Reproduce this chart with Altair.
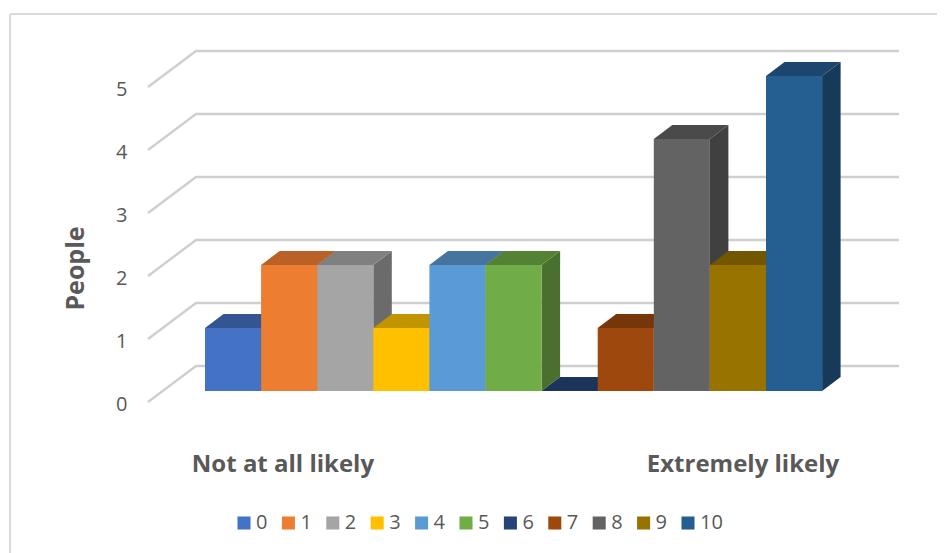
import altair as alt
import pandas as pd

ratings = ["0", "1", "2", "3", "4", "5", "6", "7", "8", "9", "10"]
people = [1, 2, 2, 1, 2, 2, 0, 1, 4, 2, 5]
front = ["#4472C4", "#ED7D31", "#A5A5A5", "#FFC000", "#5B9BD5", "#70AD47",
         "#264478", "#9E480E", "#636363", "#997300", "#255E91"]
top = ["#335593", "#BA6127", "#808080", "#C19400", "#45749F", "#548235",
       "#1C335A", "#77360A", "#4A4A4A", "#735600", "#1C466D"]
side = ["#2A4A7F", "#9A5220", "#6B6B6B", "#A67C00", "#3B658B", "#4A7030",
        "#182C4E", "#662E09", "#404040", "#634A00", "#173A5A"]
end_labels = ["Not at all likely", "Extremely likely"]
end_label_x = [1.39, 9.59]
end_label_y = [-1.0, -1.0]
grid_levels = [0, 1, 2, 3, 4, 5]

W, H = 929, 545
PX_X, PX_Y = 56.1, 63.0


def u(px):
    return (px - 205) / PX_X


def v(px):
    return (402 - px) / PX_Y


x_scale = alt.Scale(domain=[u(8), u(8 + W)], nice=False, zero=False)
y_scale = alt.Scale(domain=[v(8 + H), v(8)], nice=False, zero=False)
X = alt.X("x:Q", scale=x_scale, axis=None)
y_axis = alt.Axis(
    values=grid_levels, format="d", domain=False, ticks=False, grid=False,
    labelFontSize=20, labelColor="#595959", labelFont="Open Sans",
    labelPadding=0, labelOffset=2, offset=-119,
    title="People", titleFont="Open Sans", titleFontSize=25, titleFontWeight="bold",
    titleColor="#595959", titleX=-39, titleY=260)
Y = alt.Y("y:Q", scale=y_scale, axis=y_axis)

base_v = v(391)
dx, dy = 18.5 / PX_X, 14 / PX_Y
grid_dx, grid_dy = 48 / PX_X, 36 / PX_Y
grid_end = u(899)

layers = []

# frame
frame_color = "#D9D9D9"
layers.append(alt.Chart(pd.DataFrame({"a": [0]})).mark_rule(color=frame_color, strokeWidth=2).encode(
    x=alt.value(2), x2=alt.value(W), y=alt.value(6)))
layers.append(alt.Chart(pd.DataFrame({"a": [0]})).mark_rule(color=frame_color, strokeWidth=2).encode(
    x=alt.value(2), y=alt.value(6), y2=alt.value(H)))

# wall and side gridlines
grid_rows = []
for lv in grid_levels:
    grid_rows += [
        {"level": lv, "i": 0, "x": u(148), "y": lv},
        {"level": lv, "i": 1, "x": u(148) + grid_dx, "y": lv + grid_dy},
        {"level": lv, "i": 2, "x": grid_end, "y": lv + grid_dy},
    ]
layers.append(
    alt.Chart(pd.DataFrame(grid_rows)).mark_line(color="#CFCFCF", strokeWidth=2.4, interpolate="linear").encode(
        x=X, y=Y, detail="level:N", order="i:Q",
    )
)

# bars
for i, (r, val) in enumerate(zip(ratings, people)):
    t = base_v + val
    side_df = pd.DataFrame({
        "x": [i + 1, i + 1 + dx],
        "y": [t, t + dy],
        "y2": [base_v, base_v + dy],
    })
    top_df = pd.DataFrame({
        "x": [i, i + dx, i + 1, i + 1 + dx],
        "y": [t, t + dy, t + dy, t + dy],
        "y2": [t, t, t, t + dy],
    })
    front_df = pd.DataFrame({"x": [i], "x2": [i + 1], "y": [t], "y2": [base_v], "Rating": [r]})
    if val > 0:
        layers.append(alt.Chart(side_df).mark_area(color=side[i], interpolate="linear").encode(
            x=X, y=Y, y2="y2:Q"))
    layers.append(alt.Chart(top_df).mark_area(color=top[i], interpolate="linear").encode(
        x=X, y=Y, y2="y2:Q"))
    layers.append(alt.Chart(front_df).mark_rect().encode(
        x=X, x2="x2:Q", y=Y, y2="y2:Q",
        color=alt.Color("Rating:N", scale=alt.Scale(domain=ratings, range=front), legend=alt.Legend(
            orient="none", legendX=226, legendY=505, direction="horizontal", columns=11,
            title=None, symbolType="square", symbolSize=170, symbolStrokeWidth=0,
            labelFont="Open Sans", labelFontSize=20, labelColor="#595959",
            labelOffset=2, columnPadding=10.4, padding=0)),
    ))

# category end labels
layers.append(
    alt.Chart(pd.DataFrame({"x": end_label_x, "y": end_label_y, "t": end_labels})).mark_text(
        font="Open Sans", fontSize=24, fontWeight="bold", color="#595959", baseline="middle", align="center"
    ).encode(x=X, y=Y, text="t:N")
)

chart = alt.layer(*layers).properties(
    width=W, height=H, padding=0, autosize=alt.AutoSizeParams(type="none"), background="white"
).configure_view(stroke=None)

chart.save("out.html", embed_options={"renderer": "svg", "actions": False})
